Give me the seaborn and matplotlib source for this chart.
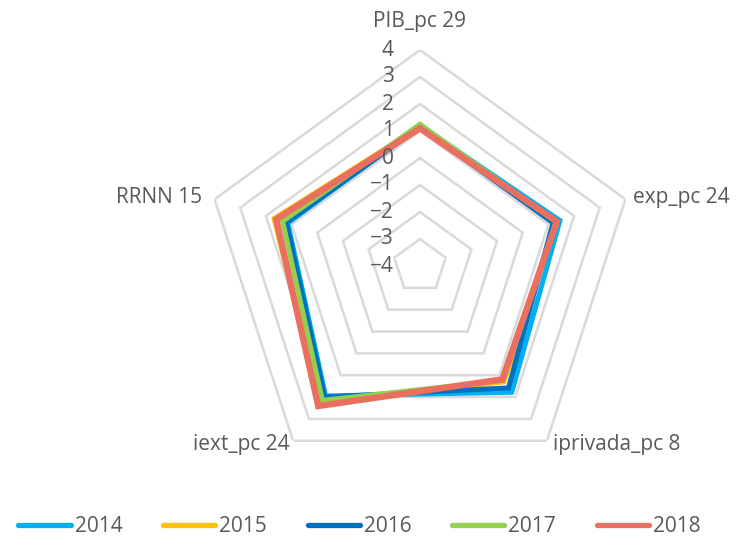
import numpy as np
import pandas as pd
import matplotlib
matplotlib.use("Agg")
import matplotlib.pyplot as plt
from matplotlib.lines import Line2D
import seaborn as sns

# Indicator axes (clockwise from the top) and yearly scores
categories = ["PIB_pc 29", "exp_pc 24", "iprivada_pc 8", "iext_pc 24", "RRNN 15"]
years = ["2014", "2015", "2016", "2017", "2018"]
v2014 = [1.20, 1.45, 1.78, 1.95, 1.15]
v2015 = [1.15, 1.30, 1.30, 2.30, 1.68]
v2016 = [1.15, 1.18, 1.58, 2.00, 1.20]
v2017 = [1.25, 1.30, 1.24, 2.15, 1.35]
v2018 = [1.10, 1.33, 1.19, 2.41, 1.60]
series = [v2014, v2015, v2016, v2017, v2018]
levels = [-4, -3, -2, -1, 0, 1, 2, 3, 4]

colors = ["#00B0F0", "#FFC000", "#0070C0", "#92D050", "#EA6F5E"]
widths = [3.6, 3.6, 3.6, 3.6, 4.6]
text_color = "#595959"
grid_color = "#D9D9D9"

sns.set_theme(style="white")
plt.rcParams["font.family"] = ["Open Sans", "DejaVu Sans"]

n = len(categories)
theta = np.linspace(0, 2 * np.pi, n, endpoint=False)
theta_closed = np.append(theta, 2 * np.pi)

rows = []
for yr, vals in zip(years, series):
    closed = list(vals) + [vals[0]]
    for t, v in zip(theta_closed, closed):
        rows.append({"year": yr, "theta": t, "value": v})
df = pd.DataFrame(rows)

W, H = 743, 541
fig = plt.figure(figsize=(W / 100, H / 100), dpi=100)
cx, cy, R = 420, 266, 216
ax = fig.add_axes([(cx - R) / W, (H - cy - R) / H, 2 * R / W, 2 * R / H],
                  projection="polar")
ax.set_theta_offset(np.pi / 2)
ax.set_theta_direction(-1)

# pentagonal gridlines
for lvl in levels[1:]:
    ax.plot(theta_closed, [lvl] * (n + 1), color=grid_color, lw=1.8,
            solid_joinstyle="miter", zorder=1)

for yr, col, lw in zip(years, colors, widths):
    sns.lineplot(data=df[df["year"] == yr], x="theta", y="value", sort=False,
                 estimator=None, color=col, lw=lw, ax=ax, zorder=3,
                 legend=False)
for line in ax.lines:
    line.set_solid_joinstyle("miter")

ax.set_ylim(-4, 4)
ax.grid(False)
ax.spines["polar"].set_visible(False)
ax.set_xticks([])
ax.set_yticks([])
ax.set_xlabel("")
ax.set_ylabel("")
ax.patch.set_alpha(0)

# value labels along the vertical axis
for lvl in levels:
    ax.annotate(str(lvl).replace("-", "\u2212"), xy=(0, lvl), xytext=(-26, 0),
                textcoords="offset pixels", ha="right", va="center",
                fontsize=15, color=text_color, annotation_clip=False)

# category labels
offsets = [((0, 29), "center"), ((8, 2), "left"), ((6, -4), "left"),
           ((-3, -4), "right"), ((-12, 2), "right")]
for t, lab, (off, ha) in zip(theta, categories, offsets):
    ax.annotate(lab, xy=(t, 4), xytext=off, textcoords="offset pixels",
                ha=ha, va="center", fontsize=15, color=text_color,
                annotation_clip=False)

handles = [Line2D([0], [0], color=c, lw=3.8, solid_capstyle="round")
           for c in colors]
leg = fig.legend(handles, years, loc="center", ncol=5,
                 bbox_to_anchor=(0.484, 1 - 527 / H), frameon=False,
                 fontsize=15, handlelength=2.5, handletextpad=0.2,
                 columnspacing=1.95)
for t in leg.get_texts():
    t.set_color(text_color)

fig.savefig("out.png", dpi=100, facecolor="white")
